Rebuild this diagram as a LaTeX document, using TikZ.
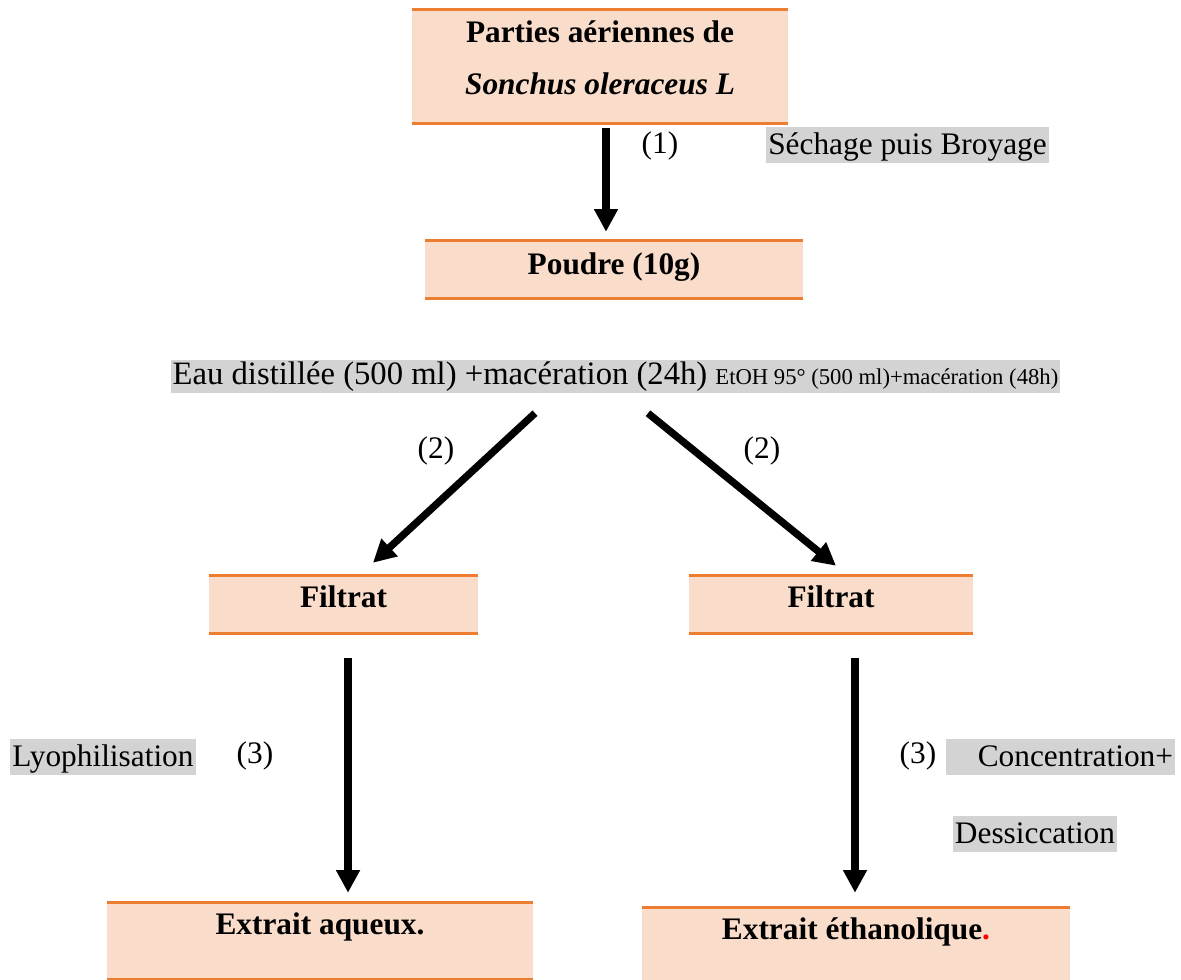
\documentclass[tikz,border=0pt]{standalone}
\usepackage{fontspec}
\setmainfont{Liberation Serif}
\usetikzlibrary{arrows.meta}
\definecolor{peche}{HTML}{F9DCCA}
\definecolor{orangetrait}{HTML}{ED7D31}
\definecolor{grisclair}{HTML}{D3D3D3}
\newcommand\taille{\fontsize{23.5}{39}\selectfont}

\begin{document}
\begin{tikzpicture}[x=0.75pt,y=-0.75pt,
        every node/.append style={font=\taille},
        etape/.style={fill=peche,inner sep=0pt,font=\taille\bfseries,minimum height=42.75pt,text height=23.25pt,text depth=19.5pt},
        bord/.style={draw=orangetrait,line width=2.25pt},
        surligne/.style={fill=grisclair,inner xsep=1.5pt,inner ysep=0pt,text height=21pt,text depth=6pt},
        fleche/.style={line width=5.5pt,-{Triangle[width=17pt,length=17pt]}}]
        \useasboundingbox (0,0) rectangle (1181,980);
        \node[etape,minimum width=282pt,minimum height=84.75pt,align=center,text height=63.75pt,text depth=21pt] (plante) at (600,66.5) {Parties aériennes de\\\textit{Sonchus oleraceus L}};
        \node[etape,minimum width=283.5pt,text height=25.5pt,text depth=17.25pt] (poudre) at (614,269.5) {Poudre (10g)};
        \node[etape,minimum width=201.75pt] (filtA) at (343.5,604.5) {Filtrat};
        \node[etape,minimum width=213pt] (filtB) at (831,604.5) {Filtrat};
        \node[etape,minimum width=319.5pt,minimum height=57pt,text depth=33.75pt] (extA) at (320,941) {Extrait aqueux.};
        \node[etape,minimum width=321pt,minimum height=54pt,text depth=30.75pt] (extB) at (856,944) {Extrait éthanolique\textcolor{red}{.}};
        \foreach \n in {plante,poudre,filtA,filtB,extA}
            \draw[bord] (\n.north west) -- (\n.north east) (\n.south west) -- (\n.south east);
        \draw[bord] (extB.north west) -- (extB.north east);
        \node (un) at (660,146) {(1)};
        \node[surligne] (sechage) at (907.5,145) {Séchage puis Broyage};
        \node[surligne,text height=18.5pt,text depth=6.25pt] (traitement) at (615.5,376.5) {\fontsize{24.5}{28}\selectfont Eau distillée (500 ml) +macération (24h) {\fontsize{17}{20}\selectfont EtOH 95° (500 ml)+macération (48h)}};
        \node (deuxA) at (436,451) {(2)};
        \node (deuxB) at (762,451) {(2)};
        \node[surligne] (lyo) at (103,756.5) {Lyophilisation};
        \node (troisA) at (255,756) {(3)};
        \node (troisB) at (918,756) {(3)};
        \node[surligne,text width=168.75pt,align=right] (conc) at (1060.5,756.5) {Concentration+};
        \node[surligne] (dessic) at (1035,833.5) {Dessiccation};
        \draw[fleche,shorten <=3.75pt,shorten >=6.75pt] ([xshift=4.5pt]plante.south) -- ([xshift=4.5pt]plante.south |- poudre.north);
        \draw[fleche,shorten <=22pt,shorten >=14.3pt] ([xshift=-44.2pt]traitement.south) -- ([xshift=11.6pt]filtA.north);
        \draw[fleche,shorten <=23.8pt,shorten >=11.9pt] ([xshift=5.9pt]traitement.south) -- ([xshift=13pt]filtB.north);
        \draw[fleche,shorten <=18.75pt,shorten >=7.5pt] ([xshift=3.4pt]filtA.south) -- ([xshift=3.4pt]filtA.south |- extA.north);
        \draw[fleche,shorten <=18.75pt,shorten >=11.25pt] ([xshift=18pt]filtB.south) -- ([xshift=18pt]filtB.south |- extB.north);
    \end{tikzpicture}
\end{document}
